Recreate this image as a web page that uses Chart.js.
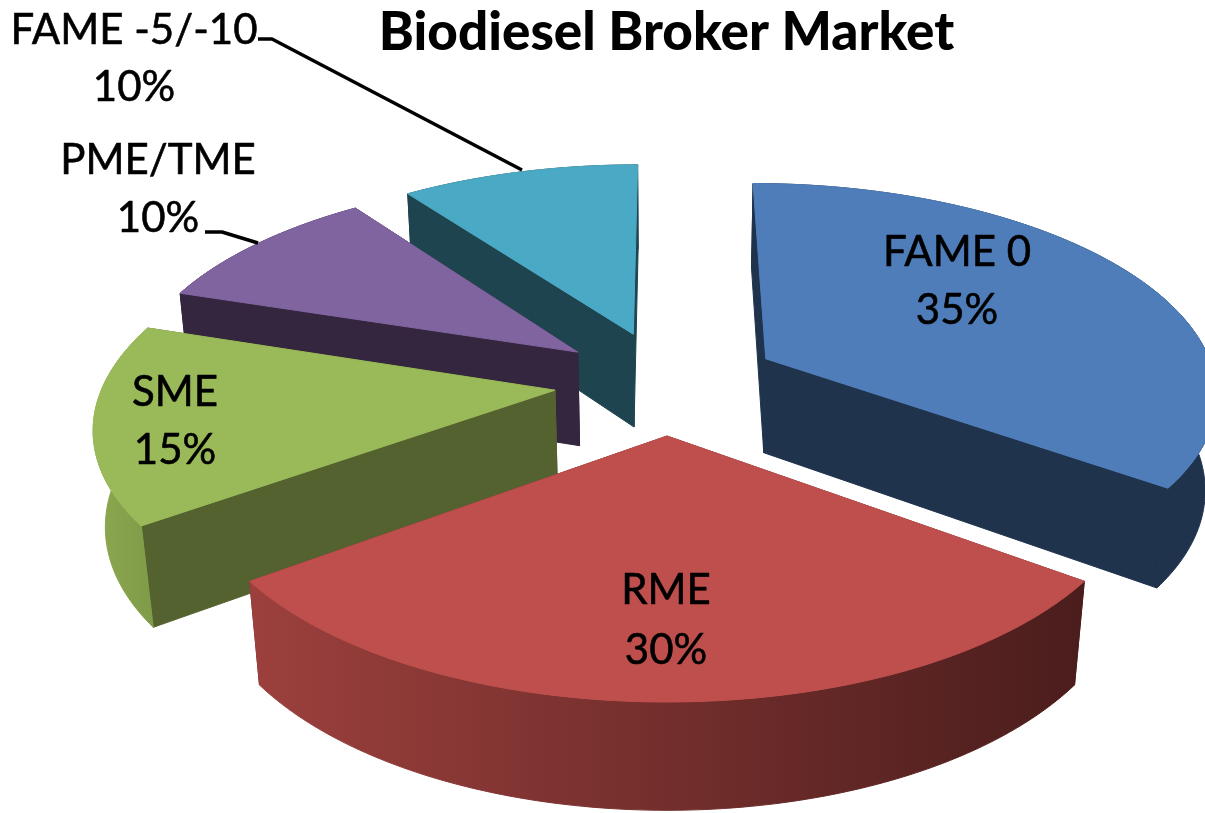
<!DOCTYPE html>
<html><head><meta charset="utf-8">
<style>html,body{margin:0;padding:0;background:#fff;overflow:hidden}#w{width:1205px;height:813px;position:relative}</style>
<script src="https://cdn.jsdelivr.net/npm/chart.js@4/dist/chart.umd.min.js"></script>
</head><body><div id="w"><canvas id="c"></canvas></div>
<script>
const categories = ['FAME 0','RME','SME','PME/TME','FAME -5/-10'];
const shares = [35,30,15,10,10];
const topColors = ['#4E7DB9','#BE4F4C','#9AB958','#8064A0','#4AA9C4'];
const sideColors = ['#1F334D','#6B2A2A','#53622F','#35263F','#1E4450'];
const wallLeft = ['#1F334D','#9C403D','#8CA84F','#35263F','#1E4450'];
const wallRight = ['#1F334D','#4A1D1C','#7F9A47','#35263F','#1E4450'];
const paintOrder = [4,3,2,0,1];
const labelCentres = [[957,252,310],[666,590,650],[175,392,450],[158,160,218],[134,30,87]];
const leaders = [[[258,39],[272,39],[522,170]],[[205,232],[222,232],[258,243]]];
const view = {cx:667,cy:382,A:451,B:208,p:0.15,q:0.021,D:97,explode:0.25};

function project(u,v,z){
  const w = 1 + view.p*v + view.q*z;
  return [view.cx + view.A*u/w, view.cy + (-view.B*v + view.D*z)/w];
}
function poly(ctx,pts,fill,seal){
  ctx.beginPath();pts.forEach((p,i)=>i?ctx.lineTo(p[0],p[1]):ctx.moveTo(p[0],p[1]));ctx.closePath();
  ctx.fillStyle=fill;ctx.fill();
  if(seal){ctx.strokeStyle=fill;ctx.lineWidth=1;ctx.lineJoin='round';ctx.stroke();}
}
const pie3d = {
  id:'pie3d',
  beforeDatasetsDraw(chart){
    const ctx=chart.ctx, arcs=chart.getDatasetMeta(0).data;
    ctx.save();
    paintOrder.forEach(i=>{
      const a=arcs[i].getProps(['startAngle','endAngle'],true);
      const mid=(a.startAngle+a.endAngle)/2;
      const ox=view.explode*Math.cos(mid), oy=-view.explode*Math.sin(mid);
      const rim=[];const n=Math.ceil((a.endAngle-a.startAngle)/(Math.PI/180));
      for(let k=0;k<=n;k++){
        const t=a.startAngle+(a.endAngle-a.startAngle)*k/n;
        rim.push([ox+Math.cos(t),oy-Math.sin(t)]);
      }
      const top=rim.map(q=>project(q[0],q[1],0)), bot=rim.map(q=>project(q[0],q[1],1));
      const at=project(ox,oy,0), ab=project(ox,oy,1);
      poly(ctx,[at,top[0],bot[0],ab],sideColors[i],true);
      poly(ctx,[at,top[n],bot[n],ab],sideColors[i],true);
      const xs=top.concat(bot).map(p=>p[0]);
      const g=ctx.createLinearGradient(Math.min(...xs),0,Math.max(...xs),0);
      g.addColorStop(0,wallLeft[i]);g.addColorStop(1,wallRight[i]);
      poly(ctx,top.concat(bot.slice().reverse()),g,true);
      poly(ctx,[at].concat(top),arcs[i].options.backgroundColor,true);
    });
    ctx.strokeStyle='#000';ctx.lineWidth=3.5;
    leaders.forEach(l=>{ctx.beginPath();l.forEach((p,k)=>k?ctx.lineTo(p[0],p[1]):ctx.moveTo(p[0],p[1]));ctx.stroke();});
    ctx.fillStyle='#000';ctx.textAlign='center';ctx.textBaseline='middle';ctx.font='42px Lato';ctx.lineWidth=0.6;
    labelCentres.forEach((l,i)=>{
      ctx.fillText(categories[i],l[0],l[1]);ctx.strokeText(categories[i],l[0],l[1]);
      ctx.fillText(shares[i]+'%',l[0],l[2]);ctx.strokeText(shares[i]+'%',l[0],l[2]);
    });
    ctx.restore();
    return false;
  }
};
new Chart(document.getElementById('c'),{
  type:'pie',
  data:{labels:categories,datasets:[{data:shares,backgroundColor:topColors,borderWidth:0}]},
  plugins:[pie3d],
  options:{
    responsive:true,maintainAspectRatio:false,animation:false,
    layout:{padding:{left:128,top:0}},
    plugins:{
      legend:{display:false},tooltip:{enabled:false},
      title:{display:true,text:'Biodiesel Broker Market',color:'#000',
        font:{family:'Lato',size:53,weight:'900'},padding:{top:1,bottom:10}}
    }
  }
});
</script></body></html>
